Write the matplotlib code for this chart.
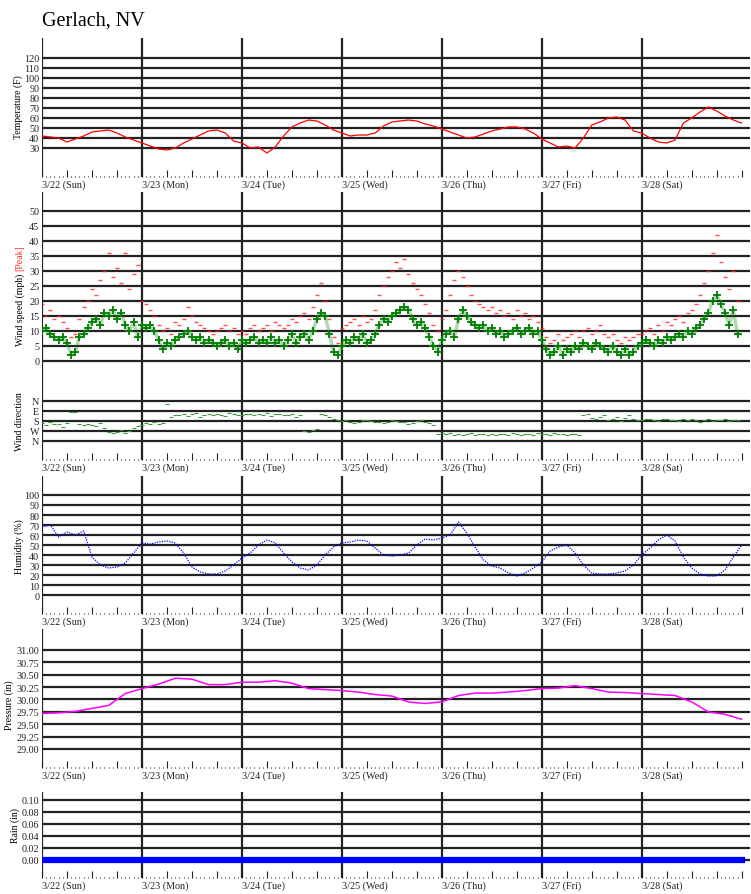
import numpy as np
import matplotlib
matplotlib.use("Agg")
import matplotlib.pyplot as plt

plt.rcParams["font.family"] = ["Liberation Serif", "DejaVu Serif"]

W_PX, H_PX = 751, 895
GRID = "#222222"

day_labels = ["3/22 (Sun)", "3/23 (Mon)", "3/24 (Tue)", "3/25 (Wed)",
              "3/26 (Thu)", "3/27 (Fri)", "3/28 (Sat)"]

# temperature (F), every 2 hours from 3/22 00:00
temp_hours = np.arange(0, 169, 2)
temp_f = [42, 41, 40, 36, 39, 42, 46, 47, 48, 45, 41, 38,
          35, 32, 29, 28, 30, 35, 39, 43, 47, 48, 45, 37,
          35, 30, 31, 25, 31, 42, 51, 55, 58, 57, 53, 48,
          45, 42, 43, 43, 45, 52, 56, 57, 58, 57, 54, 52,
          49, 46, 43, 40, 41, 44, 47, 49, 51, 51, 49, 45,
          39, 35, 31, 32, 30, 40, 53, 56, 60, 61, 58, 47,
          45, 40, 36, 35, 38, 55, 60, 66, 71, 67, 62, 58,
          55]

# wind, hourly
wind_hours = np.arange(0, 168)
wind_mph = [10, 11, 9, 8, 7, 8, 6, 2, 3, 8, 9, 11, 13, 14, 12, 16, 15, 17, 14, 16, 12, 10, 13, 8,
            12, 11, 12, 10, 7, 4, 6, 5, 7, 8, 9, 10, 8, 7, 8, 6, 7, 6, 5, 6, 7, 5, 6, 4,
            7, 6, 7, 8, 6, 7, 6, 8, 6, 7, 5, 7, 9, 6, 8, 9, 7, 10, 14, 16, 15, 9, 3, 2,
            5, 7, 6, 8, 7, 9, 6, 7, 9, 12, 14, 13, 15, 16, 17, 18, 17, 14, 12, 13, 11, 8, 5, 3,
            7, 9, 10, 8, 14, 17, 15, 13, 12, 11, 12, 10, 11, 9, 10, 8, 9, 10, 11, 9, 10, 11, 9, 10,
            7, 4, 2, 3, 5, 2, 4, 3, 5, 4, 6, 5, 4, 6, 5, 4, 3, 5, 3, 2, 4, 2, 3, 5,
            6, 7, 6, 5, 7, 6, 8, 7, 8, 9, 8, 10, 9, 11, 12, 14, 16, 20, 22, 19, 16, 12, 17, 9]
peak_mph = [19, 15, 17, 14, 15, 13, 11, 8, 9, 14, 18, 20, 24, 22, 27, 30, 36, 28, 31, 26, 36, 24, 29, 32,
            20, 19, 17, 15, 12, 10, 11, 9, 13, 12, 14, 18, 15, 13, 12, 11, 10, 9, 10, 11, 12, 10, 11, 9,
            10, 9, 11, 12, 10, 11, 12, 10, 13, 12, 11, 12, 14, 13, 15, 16, 14, 18, 22, 26, 20, 14, 8, 6,
            11, 12, 13, 14, 12, 15, 13, 14, 17, 22, 25, 28, 30, 33, 31, 34, 29, 26, 24, 22, 19, 16, 12, 10,
            14, 17, 22, 27, 30, 28, 25, 22, 20, 19, 18, 17, 18, 16, 17, 15, 16, 14, 17, 15, 16, 14, 15, 13,
            11, 8, 6, 7, 9, 7, 8, 9, 10, 8, 10, 11, 9, 10, 12, 9, 8, 9, 7, 6, 8, 7, 8, 9,
            9, 10, 11, 9, 12, 10, 13, 12, 14, 15, 13, 16, 17, 19, 22, 26, 30, 36, 42, 33, 28, 24, 30, 20]
wind_dir = [200, 215, 190, 210, 205, 230, 200, 100, 95, 210, 220, 205, 215, 225, 200, 240, 275, 290, 280, 260, 285, 270, 240, 225,
            215, 200, 205, 190, 210, 200, 30, 140, 130, 125, 115, 135, 120, 110, 140, 125, 115, 130, 120, 125, 135, 110, 120, 130,
            125, 120, 115, 130, 120, 125, 110, 135, 120, 115, 125, 130, 120, 140, 125, 270, 280, 260, 250, 120, 130, 145, 160, 170,
            180, 175, 190, 200, 185, 170, 175, 180, 190, 185, 200, 190, 175, 180, 185, 190, 205, 195, 180, 175, 185, 200, 220, 300,
            290, 300, 285, 310, 295, 305, 300, 290, 310, 300, 295, 305, 300, 310, 295, 300, 305, 290, 300, 310, 295, 300, 305, 290,
            295, 300, 305, 290, 300, 295, 310, 300, 295, 305, 130, 120, 150, 165, 140, 125, 170, 160, 145, 180, 150, 130, 165, 175,
            170, 165, 160, 175, 180, 165, 160, 170, 175, 180, 165, 170, 160, 175, 185, 170, 165, 180, 175, 170, 165, 180, 175, 170]

# humidity (%), every 2 hours
hum_hours = np.arange(0, 169, 2)
humidity = [68, 70, 58, 63, 60, 64, 38, 30, 27, 28, 32, 42,
            52, 51, 53, 54, 52, 42, 28, 23, 21, 21, 24, 30,
            37, 42, 50, 55, 52, 42, 33, 27, 25, 30, 40, 48,
            52, 53, 55, 54, 47, 40, 39, 40, 42, 50, 56, 55,
            57, 60, 73, 62, 48, 35, 29, 27, 22, 19, 22, 27,
            33, 44, 48, 50, 42, 30, 22, 21, 21, 22, 24, 30,
            40, 47, 55, 60, 54, 38, 27, 21, 19, 19, 25, 38,
            50]

# pressure (in), every 4 hours
pres_hours = np.arange(0, 169, 4)
pressure = [29.72, 29.73, 29.76, 29.82, 29.88, 30.12,
            30.22, 30.31, 30.43, 30.41, 30.30, 30.30,
            30.35, 30.35, 30.38, 30.33, 30.22, 30.20,
            30.18, 30.15, 30.10, 30.07, 29.95, 29.92,
            29.95, 30.08, 30.13, 30.13, 30.15, 30.18,
            30.22, 30.23, 30.28, 30.22, 30.15, 30.14,
            30.12, 30.10, 30.08, 29.95, 29.75, 29.70,
            29.60]

# rain (in), daily
rain_hours = [0, 24, 48, 72, 96, 120, 144, 168]
rain_in = [0.00, 0.00, 0.00, 0.00, 0.00, 0.00, 0.00, 0.00]

fig = plt.figure(figsize=(W_PX / 100, H_PX / 100), dpi=100)


def panel(top, bottom, ylim, yticks, yticklabels=None, show_x=True):
    """Add one panel, positions given in pixels."""
    ax = fig.add_axes([42 / W_PX, 1 - bottom / H_PX, 708 / W_PX, (bottom - top) / H_PX])
    ax.set_xlim(0, 170)
    ax.set_ylim(*ylim)
    for sp in ax.spines.values():
        sp.set_visible(False)
    for v in yticks:
        ax.axhline(v, color=GRID, lw=1.6, zorder=1)
    for d in range(0, 168, 24):
        ax.axvline(d, color=GRID, lw=1.6, zorder=1)
    ax.set_yticks(yticks)
    if yticklabels is not None:
        ax.set_yticklabels(yticklabels)
    ax.tick_params(axis="y", length=0, pad=2, labelsize=7.3, colors="#222222")
    if show_x:
        major = list(range(0, 169, 6))
        ax.set_xticks(major)
        ax.set_xticklabels([day_labels[h // 24] if h % 24 == 0 and h < 168 else "" for h in major],
                           ha="left")
        ax.set_xticks(range(0, 169), minor=True)
        ax.tick_params(axis="x", which="major", direction="in", length=5, width=0.8,
                       pad=2, labelsize=7.3, colors="#222222")
        ax.tick_params(axis="x", which="minor", direction="in", length=1, width=0.8,
                       colors="#222222")
    else:
        ax.set_xticks([])
    return ax


fig.text(42 / W_PX, 1 - 26 / H_PX, "Gerlach, NV", fontsize=14.5, va="baseline")

# temperature
ax = panel(39, 178, (1, 140), list(range(30, 121, 10)))
ax.plot(temp_hours, temp_f, color="#ff0000", lw=0.9, zorder=3)
fig.text(18 / W_PX, 1 - 107 / H_PX, "Temperature (F)", rotation=90, fontsize=7, ha="center", va="center")

# wind speed
ax = panel(193, 385, (-7.67, 56.3), list(range(0, 51, 5)), show_x=False)
ax.plot(wind_hours, peak_mph, ls="none", marker="_", ms=3, mew=1, color="#ff2020", alpha=0.8, zorder=3)
ax.plot(wind_hours, wind_mph, color="#008000", lw=2.5, alpha=0.3, zorder=3)
ax.plot(wind_hours, wind_mph, ls="none", marker="+", ms=6, mew=1.3, color="#008000", zorder=4)
fig.text(20 / W_PX, 1 - 310 / H_PX, "Wind speed (mph)", rotation=90, fontsize=7, ha="center", va="center")
fig.text(20 / W_PX, 1 - 258 / H_PX, "[Peak]", rotation=90, fontsize=7, ha="center", va="center",
         color="#ff3030")

# wind direction
ax = panel(385, 461, (531, -153), [0, 90, 180, 270, 360], ["N", "E", "S", "W", "N"])
ax.plot(wind_hours, wind_dir, ls="none", marker="_", ms=3, mew=0.8, color="#3a9a3a", zorder=3)
fig.text(20 / W_PX, 1 - 422 / H_PX, "Wind direction", rotation=90, fontsize=7, ha="center", va="center")

# humidity
ax = panel(477, 615, (-19, 119), list(range(0, 101, 10)))
ax.plot(hum_hours, humidity, color="#0000ff", lw=0.9, ls=(0, (1, 1)), zorder=3)
fig.text(19 / W_PX, 1 - 547 / H_PX, "Humidity (%)", rotation=90, fontsize=7, ha="center", va="center")

# pressure
p_ticks = [29.00, 29.25, 29.50, 29.75, 30.00, 30.25, 30.50, 30.75, 31.00]
ax = panel(630, 769, (28.616, 31.424), p_ticks, ["%.2f" % v for v in p_ticks])
ax.plot(pres_hours, pressure, color="#ff00ff", lw=1.1, zorder=3)
fig.text(9 / W_PX, 1 - 705 / H_PX, "Pressure (in)", rotation=90, fontsize=7, ha="center", va="center")

# rain
r_ticks = [0.00, 0.02, 0.04, 0.06, 0.08, 0.10]
ax = panel(793, 879, (-0.0305, 0.1128), r_ticks, ["%.2f" % v for v in r_ticks])
ax.plot(rain_hours, rain_in, color="#0000ff", lw=4.5, solid_capstyle="projecting", zorder=3)
fig.text(15 / W_PX, 1 - 826 / H_PX, "Rain (in)", rotation=90, fontsize=7, ha="center", va="center")

fig.savefig("out.png", dpi=100)
